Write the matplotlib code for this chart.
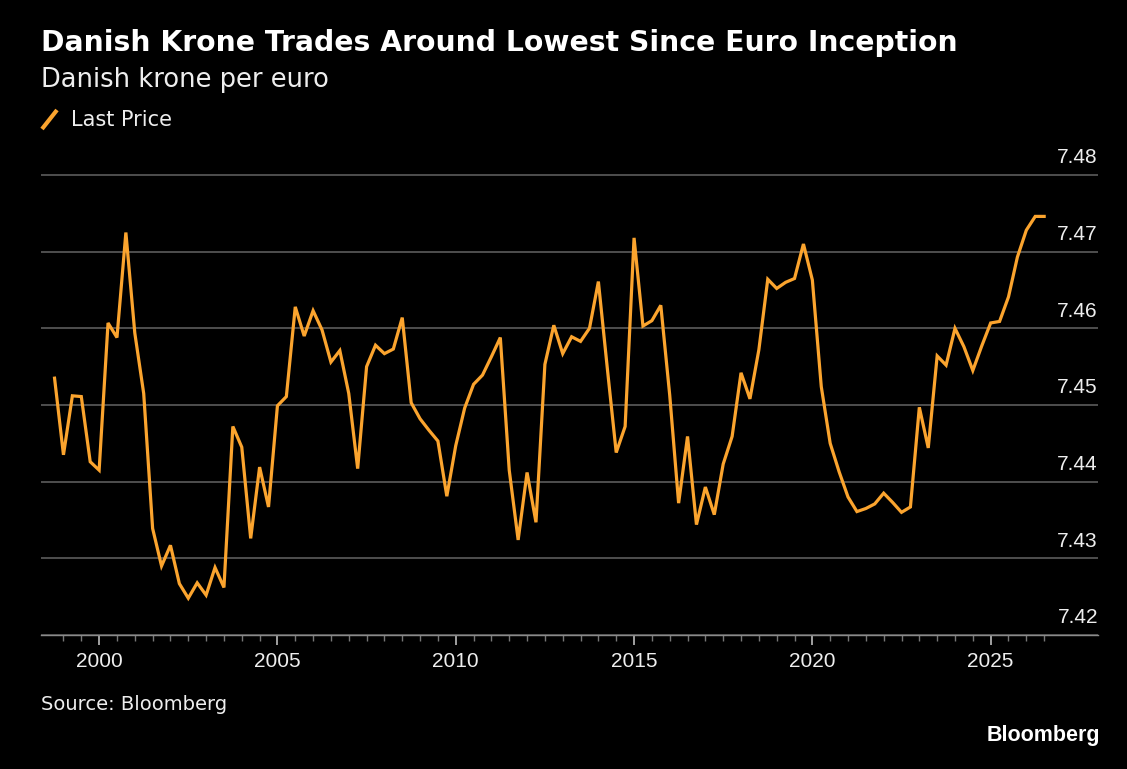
"""Danish krone per euro, Bloomberg-style dark chart."""
import numpy as np
import matplotlib
matplotlib.use("Agg")
import matplotlib.pyplot as plt
import matplotlib.transforms as mtransforms
from matplotlib.lines import Line2D

# quarterly readings, Q4 1998 through mid 2026
start_year = 1998.75
last_price = [
    7.4535, 7.4435, 7.4512, 7.4511, 7.4426, 7.4415, 7.4607, 7.4588, 7.4725, 7.4594,
    7.4515, 7.4339, 7.4290, 7.4317, 7.4267, 7.4248, 7.4268, 7.4252, 7.4288, 7.4262,
    7.4472, 7.4445, 7.4326, 7.4419, 7.4367, 7.4499, 7.4511, 7.4628, 7.4590, 7.4623,
    7.4598, 7.4556, 7.4571, 7.4515, 7.4417, 7.4550, 7.4578, 7.4567, 7.4573, 7.4614,
    7.4503, 7.4482, 7.4467, 7.4453, 7.4381, 7.4447, 7.4496, 7.4527, 7.4539, 7.4563,
    7.4588, 7.4415, 7.4324, 7.4412, 7.4347, 7.4553, 7.4604, 7.4567, 7.4589, 7.4583,
    7.4600, 7.4661, 7.4548, 7.4438, 7.4472, 7.4718, 7.4603, 7.4610, 7.4630, 7.4513,
    7.4372, 7.4459, 7.4344, 7.4393, 7.4357, 7.4423, 7.4459, 7.4542, 7.4508, 7.4572,
    7.4664, 7.4652, 7.4660, 7.4665, 7.4710, 7.4663, 7.4524, 7.4450, 7.4413, 7.4380,
    7.4361, 7.4365, 7.4371, 7.4385, 7.4373, 7.4360, 7.4367, 7.4497, 7.4444, 7.4564,
    7.4552, 7.4600, 7.4576, 7.4545, 7.4577, 7.4607, 7.4609, 7.4641, 7.4693, 7.4728,
    7.4746, 7.4746,
]
years = start_year + 0.25 * np.arange(len(last_price))

year_ticks = [2000, 2005, 2010, 2015, 2020, 2025]
price_ticks = [7.42, 7.43, 7.44, 7.45, 7.46, 7.47, 7.48]

ORANGE = "#FBA42E"
GRID = "#555555"
TEXT = "#EEEEEE"
NUM_FONT = ["Liberation Sans", "DejaVu Sans"]

W, H = 1127, 769
fig = plt.figure(figsize=(W / 100, H / 100), dpi=100, facecolor="black")
ax = fig.add_axes([41 / W, 1 - 635 / H, (1098 - 41) / W, (635 - 163.5) / H])
ax.set_facecolor("black")

ax.plot(years, last_price, color=ORANGE, linewidth=2.3, solid_joinstyle="miter")

ax.set_xlim(1998.37, 2028.01)
ax.set_ylim(7.42, 7.4815)

# grid + axis
ax.set_yticks(price_ticks)
ax.yaxis.grid(True, color=GRID, linewidth=1.3)
ax.set_axisbelow(True)
for side in ["top", "left", "right"]:
    ax.spines[side].set_visible(False)
ax.spines["bottom"].set_color("#8a8a8a")
ax.spines["bottom"].set_linewidth(1.0)

ax.set_xticks(year_ticks)
ax.set_xticks(np.arange(1999, 2027, 0.5), minor=True)
ax.tick_params(axis="x", which="major", direction="out", length=7, width=1.1,
               color="#cccccc", pad=5, labelsize=15, labelcolor=TEXT)
ax.tick_params(axis="x", which="minor", direction="out", length=4, width=1.0,
               color="#777777")
for lbl in ax.get_xticklabels():
    lbl.set_fontfamily(NUM_FONT)

ax.yaxis.tick_right()
ax.tick_params(axis="y", length=0, pad=0, labelsize=15, labelcolor=TEXT)
offset = mtransforms.ScaledTranslation(0, 8.5 / 72, fig.dpi_scale_trans)
for lbl in ax.get_yticklabels():
    lbl.set_fontfamily(NUM_FONT)
    lbl.set_horizontalalignment("right")
    lbl.set_verticalalignment("baseline")
    lbl.set_transform(lbl.get_transform() + offset)

# header
fig.text(41 / W, 1 - 51 / H, "Danish Krone Trades Around Lowest Since Euro Inception",
         color="white", fontsize=20.3, fontweight="bold", va="baseline")
fig.text(41 / W, 1 - 87 / H, "Danish krone per euro", color=TEXT,
         fontsize=18.5, va="baseline")

# legend
fig.add_artist(Line2D([42 / W, 57 / W], [1 - 129 / H, 1 - 110 / H],
                      color=ORANGE, linewidth=3, solid_capstyle="butt"))
fig.text(71 / W, 1 - 126 / H, "Last Price", color=TEXT, fontsize=15, va="baseline")

# footer
fig.text(41 / W, 1 - 710 / H, "Source: Bloomberg", color=TEXT, fontsize=14,
         va="baseline")
fig.text(1100 / W, 1 - 741 / H, "Bloomberg", color="white", fontsize=15.5,
         fontweight="bold", family=NUM_FONT, ha="right", va="baseline")

fig.savefig("out.png", dpi=100, facecolor="black")
